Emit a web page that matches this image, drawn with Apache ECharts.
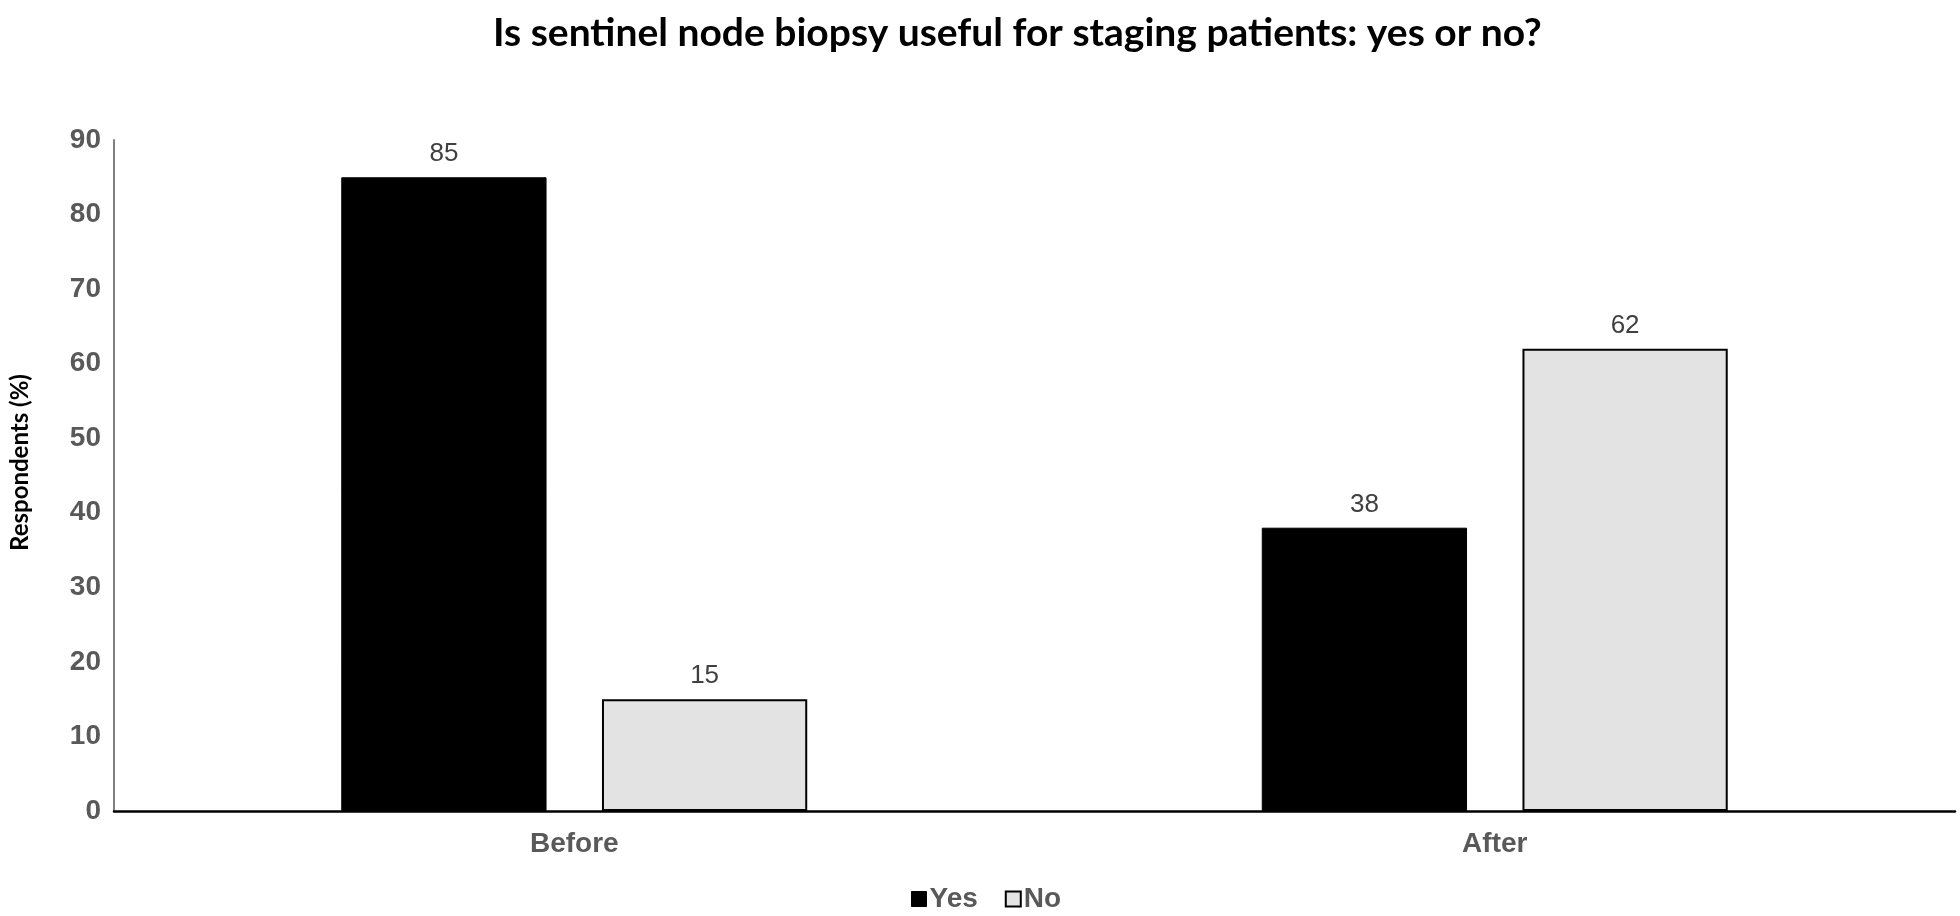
<!DOCTYPE html>
<html><head><meta charset="utf-8">
<script src="https://cdn.jsdelivr.net/npm/echarts@6/dist/echarts.min.js"></script>
<style>html,body{margin:0;padding:0;background:#fff}#c{width:1960px;height:916px}</style>
</head><body><div id="c"></div>
<script>
const categories = ["Before", "After"];
const yesValues = [85, 38];
const noValues = [15, 62];
const seriesNames = ["Yes", "No"];
const titleText = "Is sentinel node biopsy useful for staging patients: yes or no?";
const yAxisName = "Respondents (%)";

const chart = echarts.init(document.getElementById('c'));
const labelStyle = {show: true, position: 'top', distance: 10, color: '#404040', fontSize: 26, fontFamily: 'Liberation Sans'};
chart.setOption({
  animation: false,
  backgroundColor: '#fff',
  title: {text: titleText, left: 488, top: 9,
    textStyle: {fontFamily: 'Lato', fontWeight: 'bold', fontSize: 39, color: '#000'}},
  legend: {data: [
      {name: seriesNames[0], icon: 'rect', itemStyle: {color: '#000', borderColor: '#000', borderWidth: 1}},
      {name: seriesNames[1], icon: 'rect', itemStyle: {color: '#e3e3e3', borderColor: '#000', borderWidth: 2}}],
    top: 880, left: 906, itemWidth: 15, itemHeight: 15, itemGap: 27,
    textStyle: {fontFamily: 'Liberation Sans', fontWeight: 'bold', fontSize: 28, color: '#595959', padding: [0,0,0,-2]}},
  grid: {left: 110, right: 5, top: 140, bottom: 105, containLabel: false},
  xAxis: {type: 'category', data: categories,
    axisLine: {lineStyle: {color: '#000', width: 2.5}}, axisTick: {show: false},
    axisLabel: {fontFamily: 'Liberation Sans', fontWeight: 'bold', fontSize: 28, color: '#595959', margin: 19}},
  yAxis: {type: 'value', min: 0, max: 90, interval: 10,
    name: yAxisName, nameLocation: 'middle', nameGap: 82, nameRotate: 90,
    nameTextStyle: {fontFamily: 'Lato', fontWeight: 'bold', fontSize: 24, color: '#000', padding: [0,0,0,26]},
    axisLine: {show: true, lineStyle: {color: '#808080', width: 2}}, axisTick: {show: false},
    splitLine: {show: false},
    axisLabel: {fontFamily: 'Liberation Sans', fontWeight: 'bold', fontSize: 28, color: '#595959', margin: 13}},
  series: [
    {name: seriesNames[0], type: 'bar', data: yesValues, barWidth: '22.3%', barGap: '27%',
      itemStyle: {color: '#000', borderColor: '#000', borderWidth: 1}, label: labelStyle},
    {name: seriesNames[1], type: 'bar', data: noValues, barWidth: '22.3%',
      itemStyle: {color: '#e3e3e3', borderColor: '#000', borderWidth: 2}, label: labelStyle}
  ]
});
</script></body></html>
